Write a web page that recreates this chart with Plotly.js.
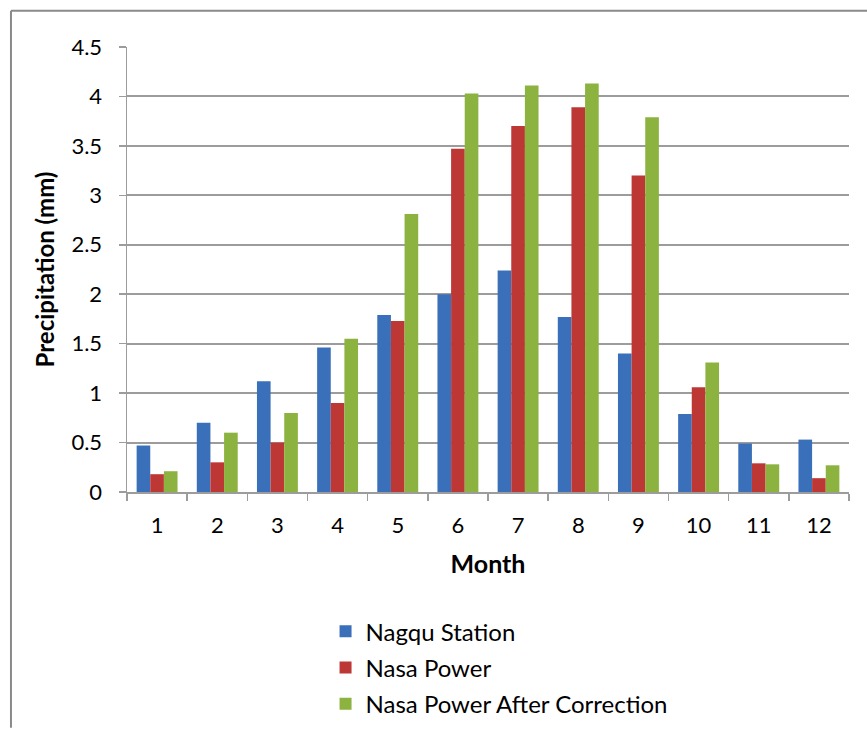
<!DOCTYPE html>
<html>
<head>
<meta charset="utf-8">
<script src="https://cdn.plot.ly/plotly-3.0.1.min.js"></script>
<style>
  html, body { margin: 0; padding: 0; background: #fff; overflow: hidden; }
  #chart { width: 867px; height: 738px; }
</style>
</head>
<body>
<div id="chart"></div>
<script>
// Monthly mean precipitation (mm)
const months = ['1', '2', '3', '4', '5', '6', '7', '8', '9', '10', '11', '12'];
const nagquStation = [0.47, 0.70, 1.12, 1.46, 1.79, 2.00, 2.24, 1.77, 1.40, 0.79, 0.49, 0.53];
const nasaPower = [0.18, 0.30, 0.50, 0.90, 1.73, 3.47, 3.70, 3.89, 3.20, 1.06, 0.29, 0.14];
const nasaPowerCorrected = [0.21, 0.60, 0.80, 1.55, 2.81, 4.03, 4.11, 4.13, 3.79, 1.31, 0.28, 0.27];

const seriesNames = ['Nagqu Station', 'Nasa Power', 'Nasa Power After Correction'];
const seriesValues = [nagquStation, nasaPower, nasaPowerCorrected];
const seriesColors = ['#3a6fb9', '#bd3735', '#8cb33f'];

const FONT = 'Lato, "Open Sans", "DejaVu Sans", sans-serif';
const GRID = '#9c9c9c';

const traces = seriesNames.map((name, i) => ({
  type: 'bar',
  name: name,
  x: months,
  y: seriesValues[i],
  legendgroup: 'g' + i,
  marker: { color: seriesColors[i], line: { width: 0 } },
  hoverinfo: 'x+y+name'
}));

const layout = {
  width: 867,
  height: 738,
  margin: { l: 127, r: 18, t: 47, b: 237 },
  paper_bgcolor: '#ffffff',
  plot_bgcolor: '#ffffff',
  font: { family: FONT, size: 21, color: '#000000' },
  barmode: 'group',
  bargap: 0.32,
  bargroupgap: 0,
  showlegend: true,
  legend: {
    orientation: 'v',
    x: 0.275,
    xanchor: 'left',
    y: -0.2634,
    yanchor: 'top',
    font: { family: FONT, size: 24, color: '#000000' },
    tracegroupgap: 2,
    bgcolor: 'rgba(0,0,0,0)'
  },
  xaxis: {
    type: 'category',
    tickson: 'boundaries',
    ticks: 'outside',
    ticklen: 7,
    tickwidth: 1.5,
    tickcolor: GRID,
    showline: true,
    linecolor: GRID,
    linewidth: 1.5,
    showgrid: false,
    ticklabelstandoff: 13,
    tickfont: { family: FONT, size: 22, color: '#000000' },
    title: {
      text: '<b>Month</b>',
      font: { family: FONT, size: 25, color: '#000000' },
      standoff: 18
    },
    automargin: false
  },
  yaxis: {
    range: [0, 4.5],
    dtick: 0.5,
    tick0: 0,
    ticks: 'outside',
    ticklen: 7,
    tickwidth: 1.5,
    tickcolor: GRID,
    showline: true,
    linecolor: GRID,
    linewidth: 1.5,
    showgrid: true,
    gridcolor: GRID,
    gridwidth: 2,
    zeroline: false,
    ticklabelstandoff: 12,
    tickfont: { family: FONT, size: 22, color: '#000000' },
    title: {
      text: '<b>Precipitation (mm)</b>',
      font: { family: FONT, size: 24, color: '#000000' },
      standoff: 10
    },
    automargin: false
  },
  shapes: [
    // chart frame (left and top edges)
    { type: 'line', xref: 'paper', yref: 'paper', x0: -0.1607, x1: -0.1607, y0: 1.0815, y1: -0.53,
      line: { color: '#8a8a8a', width: 2 } },
    { type: 'line', xref: 'paper', yref: 'paper', x0: -0.1607, x1: 1.04, y0: 1.0815, y1: 1.0815,
      line: { color: '#8a8a8a', width: 2 } }
  ]
};

Plotly.newPlot('chart', traces, layout, { displayModeBar: false, staticPlot: true });
</script>
</body>
</html>
